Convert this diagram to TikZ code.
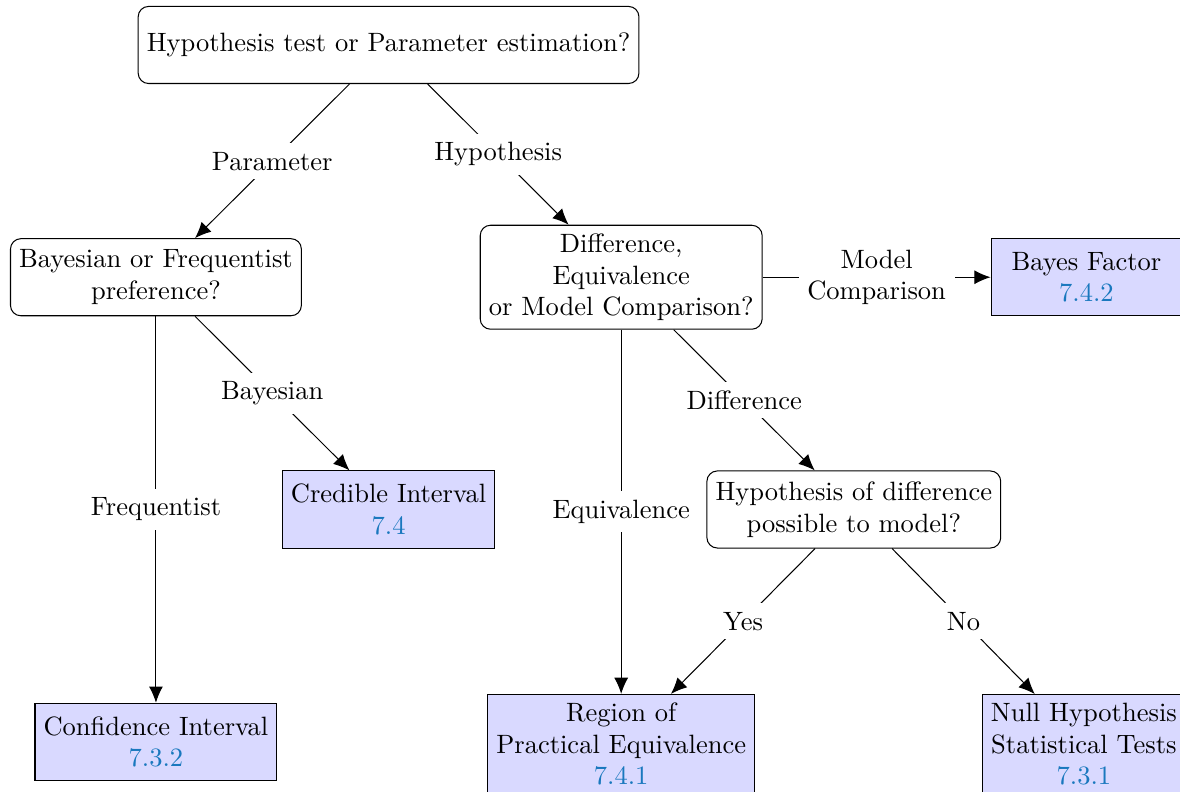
\documentclass[tikz,border=0pt]{standalone}
\usetikzlibrary{arrows.meta}
\definecolor{seclink}{RGB}{25,120,190}
\tikzset{
  every node/.style={font=\fontsize{10.28}{12.2}\selectfont},
  question/.style={draw, rounded corners=4pt, align=center, minimum height=1.05cm},
  answer/.style={draw, fill=blue!15, align=center, minimum width=2.6cm, minimum height=1.05cm},
  choice/.style={fill=white, align=center},
}
\newcommand{\secref}[1]{\textcolor{seclink}{#1}}
\begin{document}
\begin{tikzpicture}[>={Latex[length=2.2mm,width=1.9mm]}]
      \useasboundingbox (0,0) rectangle (16.08,-10.78);
      \draw
        (5.295,-0.613) node[question] (q){Hypothesis test or Parameter estimation?}
        (2.125,-3.778) node[question] (bf){Bayesian or Frequentist\\preference?}
        (8.465,-3.778) node[question] (dem){Difference,\\Equivalence\\or Model Comparison?}
        (14.805,-3.778) node[answer] (bayes){Bayes Factor\\\secref{7.4.2}}
        (5.295,-6.943) node[answer] (cred){Credible Interval\\\secref{7.4}}
        (11.635,-6.943) node[question] (hyp){Hypothesis of difference\\possible to model?}
        (2.125,-10.108) node[answer] (conf){Confidence Interval\\\secref{7.3.2}}
        (8.465,-10.14) node[answer] (rope){Region of\\Practical Equivalence\\\secref{7.4.1}}
        (14.77,-10.14) node[answer] (nhst){Null Hypothesis\\Statistical Tests\\\secref{7.3.1}};
      \begin{scope}[->]
        \draw (q) to node[choice]{Parameter} (bf);
        \draw (q) to node[choice]{Hypothesis} (dem);
        \draw (bf) to node[choice]{Bayesian} (cred);
        \draw (bf) to node[choice]{Frequentist} (conf);
        \draw (dem) to node[choice]{Model\\Comparison} (bayes);
        \draw (dem) to node[choice]{Difference} (hyp);
        \draw (dem) to node[choice]{Equivalence} (rope);
        \draw (hyp) to node[choice]{Yes} (rope);
        \draw (hyp) to node[choice]{No} (nhst);
      \end{scope}
    \end{tikzpicture}
\end{document}
